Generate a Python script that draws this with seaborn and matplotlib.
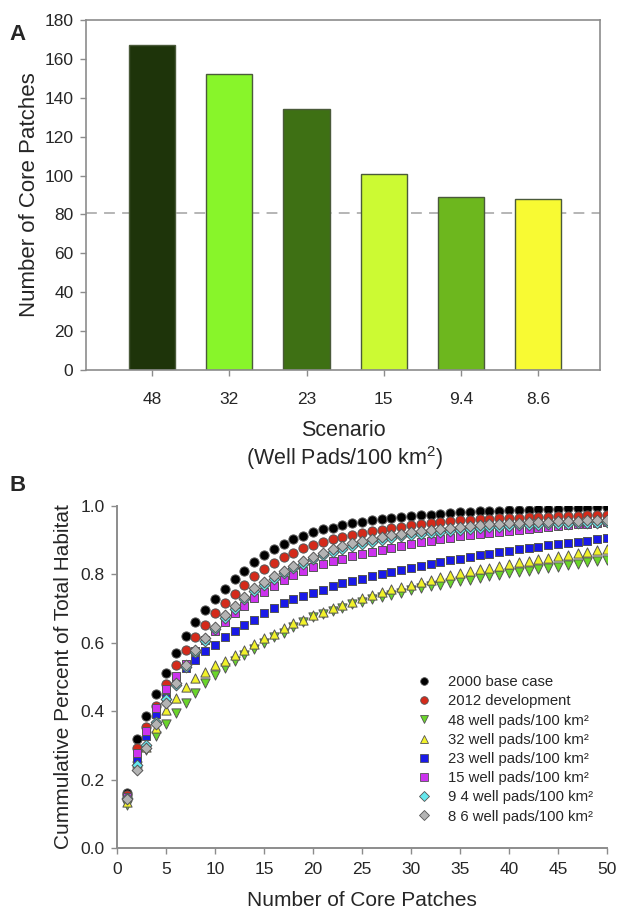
import numpy as np
import pandas as pd
import matplotlib
matplotlib.use("Agg")
import matplotlib.pyplot as plt
import seaborn as sns
from matplotlib.lines import Line2D

# ---------------- Data: panel A ----------------
scenarios = ["48", "32", "23", "15", "9.4", "8.6"]
core_patches = [167, 152, 134, 101, 89, 88]
bar_colors = ["#1e340a", "#88f52a", "#3e7014", "#ccfa33", "#6db71e", "#f8fa33"]
baseline_2012 = 81

# ---------------- Data: panel B ----------------
patches = list(range(1, 51))
base_2000 = [0.162, 0.319, 0.386, 0.449, 0.513, 0.569, 0.620, 0.662, 0.696, 0.728,
             0.756, 0.787, 0.811, 0.837, 0.857, 0.873, 0.889, 0.903, 0.913, 0.923,
             0.932, 0.937, 0.944, 0.949, 0.954, 0.958, 0.962, 0.965, 0.968, 0.971,
             0.973, 0.975, 0.977, 0.979, 0.981, 0.983, 0.984, 0.985, 0.986, 0.987,
             0.988, 0.989, 0.990, 0.991, 0.992, 0.993, 0.994, 0.995, 0.996, 0.997]
dev_2012 = [0.155, 0.292, 0.355, 0.415, 0.480, 0.535, 0.579, 0.618, 0.653, 0.686,
            0.717, 0.744, 0.770, 0.795, 0.816, 0.832, 0.850, 0.863, 0.876, 0.886,
            0.894, 0.903, 0.909, 0.915, 0.922, 0.926, 0.931, 0.935, 0.939, 0.943,
            0.946, 0.949, 0.952, 0.955, 0.958, 0.960, 0.962, 0.963, 0.964, 0.965,
            0.966, 0.967, 0.968, 0.969, 0.970, 0.971, 0.972, 0.973, 0.974, 0.975]
pads_48 = [0.125, 0.240, 0.288, 0.327, 0.363, 0.394, 0.425, 0.452, 0.482, 0.506,
           0.525, 0.548, 0.564, 0.581, 0.600, 0.616, 0.629, 0.647, 0.662, 0.674,
           0.684, 0.694, 0.703, 0.712, 0.720, 0.727, 0.734, 0.741, 0.747, 0.753,
           0.759, 0.765, 0.770, 0.775, 0.780, 0.785, 0.790, 0.794, 0.799, 0.803,
           0.807, 0.811, 0.815, 0.819, 0.823, 0.827, 0.831, 0.835, 0.838, 0.842]
pads_32 = [0.135, 0.250, 0.295, 0.350, 0.404, 0.438, 0.472, 0.496, 0.516, 0.535,
           0.548, 0.564, 0.580, 0.596, 0.613, 0.627, 0.642, 0.657, 0.668, 0.681,
           0.691, 0.701, 0.710, 0.719, 0.732, 0.740, 0.748, 0.756, 0.763, 0.770,
           0.777, 0.784, 0.791, 0.797, 0.803, 0.809, 0.815, 0.820, 0.825, 0.830,
           0.835, 0.840, 0.845, 0.849, 0.854, 0.858, 0.862, 0.866, 0.870, 0.874]
pads_23 = [0.148, 0.259, 0.327, 0.392, 0.440, 0.490, 0.525, 0.551, 0.577, 0.594,
           0.616, 0.634, 0.651, 0.668, 0.688, 0.702, 0.715, 0.728, 0.737, 0.745,
           0.755, 0.765, 0.774, 0.781, 0.788, 0.795, 0.801, 0.807, 0.813, 0.819,
           0.825, 0.830, 0.836, 0.841, 0.846, 0.851, 0.856, 0.860, 0.865, 0.869,
           0.873, 0.877, 0.881, 0.885, 0.889, 0.892, 0.896, 0.899, 0.903, 0.906]
pads_15 = [0.150, 0.277, 0.343, 0.408, 0.464, 0.503, 0.538, 0.577, 0.608, 0.635,
           0.661, 0.686, 0.709, 0.730, 0.749, 0.767, 0.784, 0.798, 0.811, 0.823,
           0.830, 0.838, 0.846, 0.853, 0.860, 0.866, 0.872, 0.878, 0.884, 0.889,
           0.894, 0.899, 0.903, 0.907, 0.911, 0.915, 0.918, 0.921, 0.924, 0.927,
           0.930, 0.933, 0.936, 0.938, 0.941, 0.943, 0.946, 0.948, 0.950, 0.953]
pads_94 = [0.145, 0.243, 0.301, 0.369, 0.437, 0.478, 0.528, 0.572, 0.606, 0.640,
           0.673, 0.700, 0.727, 0.751, 0.769, 0.787, 0.803, 0.818, 0.831, 0.844,
           0.856, 0.866, 0.875, 0.883, 0.889, 0.895, 0.901, 0.906, 0.911, 0.915,
           0.919, 0.922, 0.925, 0.928, 0.931, 0.934, 0.936, 0.938, 0.940, 0.942,
           0.943, 0.944, 0.945, 0.946, 0.947, 0.948, 0.949, 0.950, 0.951, 0.952]
pads_86 = [0.142, 0.228, 0.292, 0.363, 0.425, 0.482, 0.535, 0.579, 0.613, 0.647,
           0.681, 0.708, 0.735, 0.759, 0.777, 0.795, 0.811, 0.826, 0.839, 0.852,
           0.864, 0.874, 0.883, 0.891, 0.897, 0.903, 0.909, 0.914, 0.919, 0.923,
           0.927, 0.930, 0.933, 0.936, 0.939, 0.942, 0.944, 0.946, 0.948, 0.950,
           0.951, 0.952, 0.953, 0.954, 0.955, 0.956, 0.957, 0.958, 0.959, 0.960]

series_labels = ["2000 base case", "2012 development",
                 "48 well pads/100 km²", "32 well pads/100 km²",
                 "23 well pads/100 km²", "15 well pads/100 km²",
                 "9 4 well pads/100 km²", "8 6 well pads/100 km²"]
series_values = [base_2000, dev_2012, pads_48, pads_32, pads_23, pads_15, pads_94, pads_86]
series_colors = ["#000000", "#d42a1a", "#6ad62a", "#f2f22a", "#1a1ae8", "#cc33ee", "#66e8ee", "#b4b4b4"]
series_markers = ["o", "o", "v", "^", "s", "s", "D", "D"]
series_sizes = [44, 44, 44, 44, 36, 36, 30, 30]

# ---------------- Figure ----------------
sns.set_theme(style="white")
plt.rcParams['font.family'] = ['Liberation Sans', 'DejaVu Sans']
plt.rcParams['mathtext.fontset'] = 'custom'
plt.rcParams['mathtext.rm'] = 'Liberation Sans'

fig = plt.figure(figsize=(6.17, 9.18), dpi=100)
spine_col = "#8c8c8c"
tick_fs = 12.5

# ---- Panel A ----
axA = fig.add_axes([86/617, 1-370/918, (600-86)/617, (370-20)/918])
dfA = pd.DataFrame({"Scenario": scenarios, "Count": core_patches})
sns.barplot(data=dfA, x="Scenario", y="Count", hue="Scenario", order=scenarios,
            hue_order=scenarios, palette=bar_colors, legend=False, width=0.6,
            edgecolor="#4a5a3a", linewidth=1.0, saturation=1, ax=axA)
axA.axhline(baseline_2012, color="#b0b0b0", linestyle=(0, (6, 4)), linewidth=1.3, zorder=0.5)
axA.set_xlim(-0.855, 5.80)
axA.set_ylim(0, 180)
axA.set_yticks(np.arange(0, 181, 20))
for s in axA.spines.values():
    s.set_color(spine_col)
    s.set_linewidth(1.2)
axA.tick_params(axis='both', which='both', direction='out', length=4, width=1,
                color=spine_col, labelsize=tick_fs, left=True, bottom=True)
axA.tick_params(axis='x', pad=12)
axA.tick_params(axis='y', pad=5)
axA.set_xlabel("Scenario", fontsize=15.5, labelpad=9)
axA.set_ylabel("Number of Core Patches", fontsize=16, labelpad=3)
fig.text(345/617, 1-458/918, "(Well Pads/100 km$^2$)", fontsize=15.5, ha="center", va="center")
fig.text(18/617, 1-35/918, "A", fontsize=16, fontweight="bold", ha="center", va="center")

# ---- Panel B ----
axB = fig.add_axes([117/617, 1-848/918, (607-117)/617, (848-506)/918])
rows = []
for lab, vals in zip(series_labels, series_values):
    for x, v in zip(patches, vals):
        rows.append((x, v, lab))
dfB = pd.DataFrame(rows, columns=["Patches", "Cum", "Series"])
for lab, col, mk, sz in zip(series_labels, series_colors, series_markers, series_sizes):
    sub = dfB[dfB["Series"] == lab]
    sns.scatterplot(data=sub, x="Patches", y="Cum", color=col, marker=mk, s=sz,
                    edgecolor="#555555", linewidth=0.7, ax=axB, legend=False, zorder=3)
axB.set_xlim(0, 50)
axB.set_ylim(0, 1.0)
axB.set_xticks(np.arange(0, 51, 5))
axB.set_yticks(np.arange(0, 1.01, 0.2))
axB.set_yticklabels([f"{v:.1f}" for v in np.arange(0, 1.01, 0.2)])
axB.spines['top'].set_visible(False)
axB.spines['right'].set_visible(False)
for k in ['left', 'bottom']:
    axB.spines[k].set_color(spine_col)
    axB.spines[k].set_linewidth(1.4)
axB.tick_params(axis='both', which='both', direction='out', length=4, width=1,
                color=spine_col, labelsize=tick_fs, left=True, bottom=True)
axB.tick_params(axis='x', pad=6)
axB.tick_params(axis='y', pad=5)
axB.set_xlabel("Number of Core Patches", fontsize=15, labelpad=10)
axB.set_ylabel("Cummulative Percent of Total Habitat", fontsize=15, labelpad=5)
fig.text(18/617, 1-485/918, "B", fontsize=16, fontweight="bold", ha="center", va="center")

handles = [Line2D([0], [0], marker=mk, linestyle="none", markerfacecolor=col,
                  markeredgecolor="#555555", markeredgewidth=0.6, markersize=5.5)
           for col, mk in zip(series_colors, series_markers)]
axB.legend(handles, series_labels, loc="upper left", bbox_to_anchor=(0.611, 0.505),
           frameon=False, fontsize=10.7, handletextpad=1.15, labelspacing=0.35,
           borderaxespad=0, borderpad=0, handlelength=1.0)

fig.savefig("out.png", dpi=100)
